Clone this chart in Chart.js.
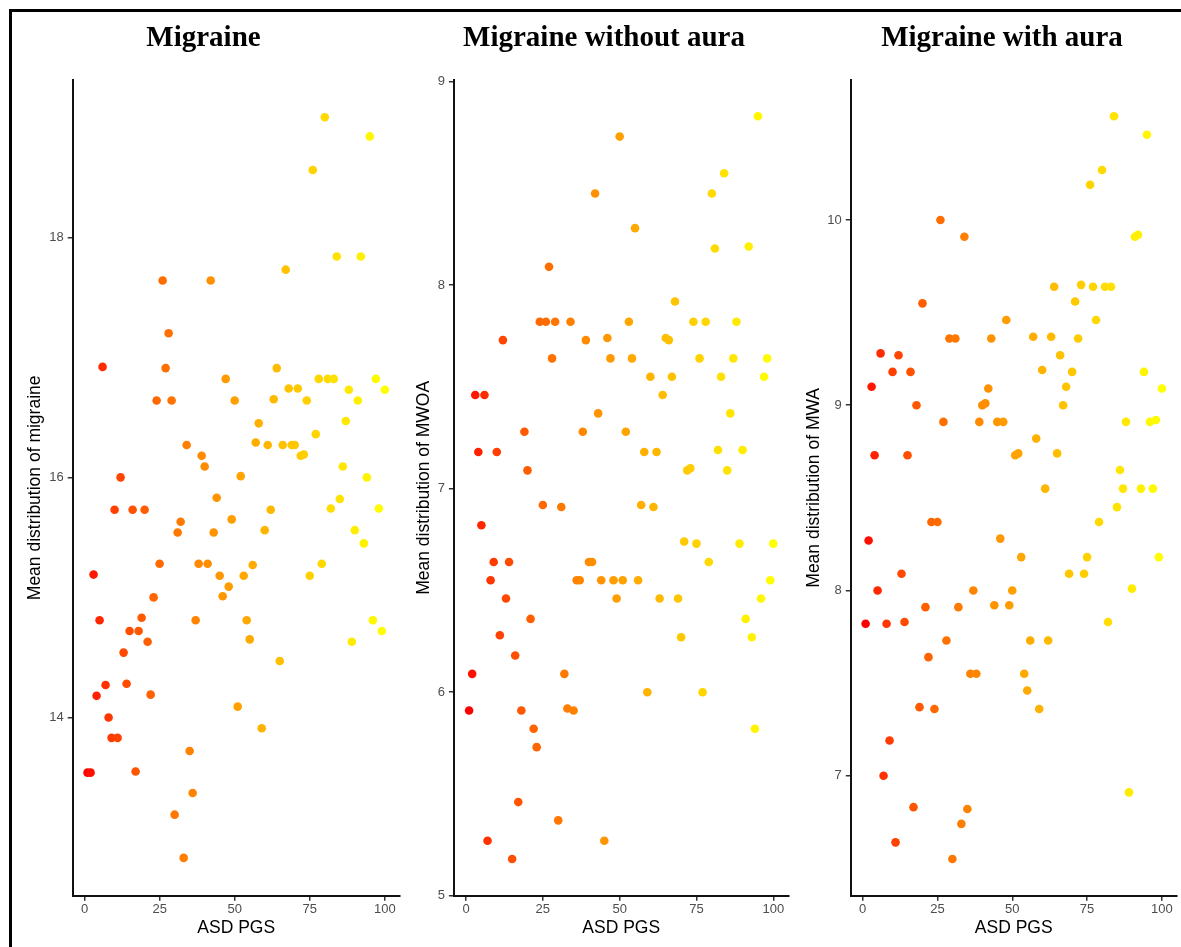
<!DOCTYPE html>
<html>
<head>
<meta charset="utf-8">
<title>Migraine by ASD PGS</title>
<script src="https://cdn.jsdelivr.net/npm/chart.js@4.4.0/dist/chart.umd.min.js"></script>
<style>
  html, body { margin: 0; padding: 0; background: #fff; overflow: hidden; }
  body { width: 1181px; height: 947px; position: relative; }
  #frame { position: absolute; left: 9px; top: 9px; width: 1200px; height: 960px; border: 3px solid #000; }
  canvas { position: absolute; top: 0; }
</style>
</head>
<body>
<div id="frame"></div>
<canvas id="c1" width="404" height="947" style="left:0px"></canvas>
<canvas id="c2" width="388" height="947" style="left:408px"></canvas>
<canvas id="c3" width="381" height="947" style="left:800px"></canvas>
<script>
// ASD PGS percentile (x) for every subject
const pgs = [1, 2, 3, 4, 5, 6, 7, 8, 9, 10, 11, 12, 13, 14, 15, 16, 17, 18, 19, 20,
  21, 22, 23, 24, 25, 26, 27, 28, 29, 30, 31, 32, 33, 34, 35, 36, 37, 38, 39, 40,
  41, 42, 43, 44, 45, 46, 47, 48, 49, 50, 51, 52, 53, 54, 55, 56, 57, 58, 59, 60,
  61, 62, 63, 64, 65, 66, 67, 68, 69, 70, 71, 72, 73, 74, 75, 76, 77, 78, 79, 80,
  81, 82, 83, 84, 85, 86, 87, 88, 89, 90, 91, 92, 93, 94, 95, 96, 97, 98, 99, 100];

const migraine = [13.54, 13.54, 15.19, 14.18, 14.81, 16.92, 14.27, 14.00, 13.83, 15.73,
  13.83, 16.00, 14.54, 14.28, 14.72, 15.73, 13.55, 14.72, 14.83, 15.73,
  14.63, 14.19, 15.00, 16.64, 15.28, 17.64, 16.91, 17.20, 16.64, 13.19,
  15.54, 15.63, 12.83, 16.27, 13.72, 13.37, 14.81, 15.28, 16.18, 16.09,
  15.28, 17.64, 15.54, 15.83, 15.18, 15.01, 16.82, 15.09, 15.65, 16.64,
  14.09, 16.01, 15.18, 14.81, 14.65, 15.27, 16.29, 16.45, 13.91, 15.56,
  16.27, 15.73, 16.65, 16.91, 14.47, 16.27, 17.73, 16.74, 16.27, 16.27,
  16.74, 16.18, 16.19, 16.64, 15.18, 18.56, 16.36, 16.82, 15.28, 19.00,
  16.82, 15.74, 16.82, 17.84, 15.82, 16.09, 16.47, 16.73, 14.63, 15.56,
  16.64, 17.84, 15.45, 16.00, 18.84, 14.81, 16.82, 15.74, 14.72, 16.73];

const mwoa = [5.91, 6.09, 7.46, 7.18, 6.82, 7.46, 5.27, 6.55, 6.64, 7.18,
  6.28, 7.73, 6.46, 6.64, 5.18, 6.18, 5.46, 5.91, 7.28, 7.09,
  6.36, 5.82, 5.73, 7.82, 6.92, 7.82, 8.09, 7.64, 7.82, 5.37,
  6.91, 6.09, 5.92, 7.82, 5.91, 6.55, 6.55, 7.28, 7.73, 6.64,
  6.64, 8.45, 7.37, 6.55, 5.27, 7.74, 7.64, 6.55, 6.46, 8.73,
  6.55, 7.28, 7.82, 7.64, 8.28, 6.55, 6.92, 7.18, 6.00, 7.55,
  6.91, 7.18, 6.46, 7.46, 7.74, 7.73, 7.55, 7.92, 6.46, 6.27,
  6.74, 7.09, 7.10, 7.82, 6.73, 7.64, 6.00, 7.82, 6.64, 8.45,
  8.18, 7.19, 7.55, 8.55, 7.09, 7.37, 7.64, 7.82, 6.73, 7.19,
  6.36, 8.19, 6.27, 5.82, 8.83, 6.46, 7.55, 7.64, 6.55, 6.73];

const mwa = [7.82, 8.27, 9.10, 8.73, 8.00, 9.28, 7.00, 7.82, 7.19, 9.18,
  6.64, 9.27, 8.09, 7.83, 8.73, 9.18, 6.83, 9.00, 7.37, 9.55,
  7.91, 7.64, 8.37, 7.36, 8.37, 10.00, 8.91, 7.73, 9.36, 6.55,
  9.36, 7.91, 6.74, 9.91, 6.82, 7.55, 8.00, 7.55, 8.91, 9.00,
  9.01, 9.09, 9.36, 7.92, 8.91, 8.28, 8.91, 9.46, 7.92, 8.00,
  8.73, 8.74, 8.18, 7.55, 7.46, 7.73, 9.37, 8.82, 7.36, 9.19,
  8.55, 7.73, 9.37, 9.64, 8.74, 9.27, 9.00, 9.10, 8.09, 9.18,
  9.56, 9.36, 9.65, 8.09, 8.18, 10.19, 9.64, 9.46, 8.37, 10.27,
  9.64, 7.83, 9.64, 10.56, 8.45, 8.65, 8.55, 8.91, 6.91, 8.01,
  9.91, 9.92, 8.55, 9.18, 10.46, 8.91, 8.55, 8.92, 8.18, 9.09];

const panelTitles = ['Migraine', 'Migraine without aura', 'Migraine with aura'];
const yTitles = ['Mean distribution of migraine', 'Mean distribution of MWOA', 'Mean distribution of MWA'];
const xTitle = 'ASD PGS';
const xTicks = [0, 25, 50, 75, 100];
const yTicksMigraine = [14, 16, 18];
const yTicksMwoa = [5, 6, 7, 8, 9];
const yTicksMwa = [7, 8, 9, 10];

// red -> yellow gradient, interpolated in Lab like ggplot does
function toLab(rgb) {
  const lin = c => { c /= 255; return c <= 0.04045 ? c / 12.92 : Math.pow((c + 0.055) / 1.055, 2.4); };
  const [r, g, b] = rgb.map(lin);
  const X = (r * 0.4124 + g * 0.3576 + b * 0.1805) / 0.95047;
  const Y = r * 0.2126 + g * 0.7152 + b * 0.0722;
  const Z = (r * 0.0193 + g * 0.1192 + b * 0.9505) / 1.08883;
  const f = t => t > 0.008856 ? Math.cbrt(t) : 7.787 * t + 16 / 116;
  return [116 * f(Y) - 16, 500 * (f(X) - f(Y)), 200 * (f(Y) - f(Z))];
}
function fromLab([L, a, b]) {
  const fy = (L + 16) / 116, fx = fy + a / 500, fz = fy - b / 200;
  const inv = t => t * t * t > 0.008856 ? t * t * t : (t - 16 / 116) / 7.787;
  const X = inv(fx) * 0.95047, Y = inv(fy), Z = inv(fz) * 1.08883;
  const lin = [3.2406 * X - 1.5372 * Y - 0.4986 * Z,
              -0.9689 * X + 1.8758 * Y + 0.0415 * Z,
               0.0557 * X - 0.2040 * Y + 1.0570 * Z];
  return lin.map(c => {
    c = c <= 0.0031308 ? 12.92 * c : 1.055 * Math.pow(c, 1 / 2.4) - 0.055;
    return Math.round(Math.min(1, Math.max(0, c)) * 255);
  });
}
const lowLab = toLab([255, 0, 0]);
const highLab = toLab([255, 255, 0]);
function pgsColour(v) {
  const t = (v - pgs[0]) / (pgs[pgs.length - 1] - pgs[0]);
  const c = fromLab(lowLab.map((l, i) => l + (highLab[i] - l) * t));
  return 'rgb(' + c.join(',') + ')';
}

Chart.defaults.font.family = "'Liberation Sans', Arial, sans-serif";

// padLeft/padRight place the panel title; yWidth and yTitlePad put the axis where ggplot had it
const panels = [
  { canvas: 'c1', title: panelTitles[0], yTitle: yTitles[0], values: migraine, yTicks: yTicksMigraine,
    yMin: 12.515, yMax: 19.31, padLeft: 7.1, padRight: 4.1, yWidth: 65.6, yTitlePad: 18.0 },
  { canvas: 'c2', title: panelTitles[1], yTitle: yTitles[1], values: mwoa, yTicks: yTicksMwoa,
    yMin: 5, yMax: 9.008, padLeft: 11.5, padRight: 7.5, yWidth: 34.4, yTitlePad: -5.4 },
  { canvas: 'c3', title: panelTitles[2], yTitle: yTitles[2], values: mwa, yTicks: yTicksMwa,
    yMin: 6.352, yMax: 10.756, padLeft: 25.8, padRight: 2.8, yWidth: 25, yTitlePad: -22.3 }
];

panels.forEach(p => {
  new Chart(document.getElementById(p.canvas), {
    type: 'scatter',
    data: {
      datasets: [{
        data: pgs.map((x, i) => ({ x: x, y: p.values[i] })),
        pointRadius: 4.3,
        pointHoverRadius: 4.3,
        pointBorderWidth: 0,
        pointBackgroundColor: pgs.map(pgsColour)
      }]
    },
    options: {
      responsive: false,
      animation: false,
      layout: { padding: { left: p.padLeft, right: p.padRight, top: 0, bottom: 0 } },
      plugins: {
        legend: { display: false },
        tooltip: { enabled: false },
        title: {
          display: true,
          text: p.title,
          color: '#000',
          font: { family: "'Liberation Serif', 'Times New Roman', serif", size: 29, weight: 'bold' },
          padding: { top: 21.5, bottom: 23.7 }
        }
      },
      scales: {
        x: {
          type: 'linear',
          min: -3.95,
          max: 104.95,
          afterBuildTicks: s => { s.ticks = xTicks.map(v => ({ value: v })); },
          afterFit: s => { s.height = 51.3; },
          ticks: { color: '#4d4d4d', font: { size: 13 }, padding: 1, maxRotation: 0 },
          grid: { display: true, drawOnChartArea: false, drawTicks: true, tickLength: 5, color: '#333', lineWidth: 1.5 },
          border: { display: true, color: '#111', width: 2 },
          title: { display: true, text: xTitle, color: '#000', font: { size: 17.5 }, padding: { top: 0, bottom: 8.6 } }
        },
        y: {
          type: 'linear',
          min: p.yMin,
          max: p.yMax,
          afterBuildTicks: s => { s.ticks = p.yTicks.map(v => ({ value: v })); },
          afterFit: s => { s.width = p.yWidth; },
          ticks: { color: '#4d4d4d', font: { size: 13 }, padding: 4 },
          grid: { display: true, drawOnChartArea: false, drawTicks: true, tickLength: 5, color: '#333', lineWidth: 1.5 },
          border: { display: true, color: '#111', width: 2 },
          title: { display: true, text: p.yTitle, color: '#000', font: { size: 17.5 }, padding: { top: p.yTitlePad, bottom: 0 } }
        }
      }
    }
  });
});
</script>
</body>
</html>
